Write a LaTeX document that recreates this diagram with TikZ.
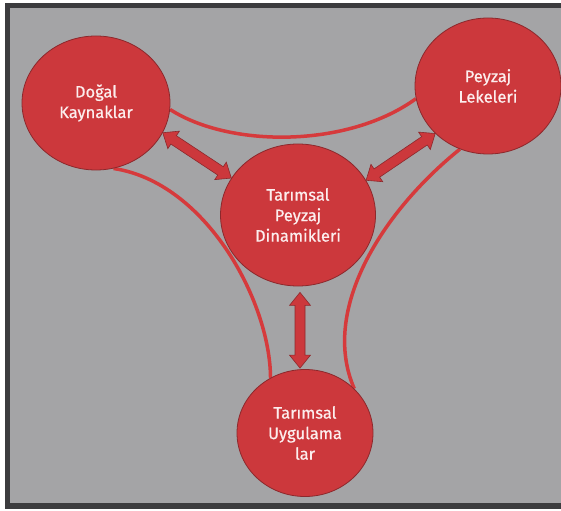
\documentclass[tikz,border=0pt]{standalone}
\usepackage{fontspec}
\setmainfont{Fira Sans}
\newfontfamily\lblfont{Fira Sans}[FakeBold=0.6]
\usetikzlibrary{calc,shapes.geometric}
\definecolor{bggrey}{RGB}{164,164,166}
\definecolor{framegrey}{RGB}{60,60,62}
\definecolor{circred}{RGB}{204,56,60}
\definecolor{edgered}{RGB}{140,40,44}
\definecolor{linered}{RGB}{214,58,60}
\definecolor{txtcol}{RGB}{252,238,238}
\pgfdeclarelayer{back}
\pgfdeclarelayer{mid}
\pgfsetlayers{back,mid,main}
\newcommand\twoheadblock[3]{%
  \coordinate (#3a) at ($(#1)!13bp!(#2)$);
  \coordinate (#3b) at ($(#2)!13bp!(#1)$);
  \draw[blockarrow] (#1) -- ($(#3a)!10.5bp!-90:(#2)$) -- ($(#3a)!5bp!-90:(#2)$)
    -- ($(#3b)!5bp!90:(#1)$) -- ($(#3b)!10.5bp!90:(#1)$) -- (#2)
    -- ($(#3b)!10.5bp!-90:(#1)$) -- ($(#3b)!5bp!-90:(#1)$)
    -- ($(#3a)!5bp!90:(#2)$) -- ($(#3a)!10.5bp!90:(#2)$) -- cycle;
}
\begin{document}
\begin{tikzpicture}[x=1bp,y=-1bp,
  circ/.style={ellipse, fill=circred, draw=edgered, line width=0.8bp,
    text=txtcol, align=center, inner sep=0pt,
    font=\lblfont\fontsize{16.5bp}{20.5bp}\selectfont},
  curve/.style={draw=linered, line width=3.5bp},
  blockarrow/.style={fill=circred, draw=edgered, line width=0.6bp, line join=miter}]
\useasboundingbox (0,0) rectangle (561,511);
\begin{pgfonlayer}{back}
\fill[white] (0,0) rectangle (561,511);
\fill[framegrey] (5,3) rectangle (570,509);
\fill[bggrey] (10,8) rectangle (570,503);
\end{pgfonlayer}

\node[circ, minimum width=148bp, minimum height=134bp] (dk) at (96,103) {Doğal\\Kaynaklar};
\node[circ, minimum width=146bp, minimum height=136bp] (pl) at (488,86) {Peyzaj\\Lekeleri};
\node[circ, minimum width=155bp, minimum height=142bp] (tp) at (298,215) {Tarımsal\\Peyzaj\\Dinamikleri};
\node[circ, minimum width=136bp, minimum height=127bp] (tu) at (305,433) {Tarımsal\\Uygulama\\lar};

\begin{pgfonlayer}{mid}
\draw[curve] (dk.-5) .. controls (230,148) and (348,148) .. (pl.190);
\draw[curve] (dk.-75) .. controls (205,182) and (270,300) .. (tu.122);
\draw[curve] (pl.246) .. controls (382,212) and (320,310) .. (tu.42);
\end{pgfonlayer}

\twoheadblock{dk.-24}{tp.151}{la}
\twoheadblock{pl.222}{tp.27}{ra}
\coordinate (va) at ($(tp.south)+(2,6)$);
\coordinate (vb) at ($(va |- tu.north)+(0,-1)$);
\twoheadblock{va}{vb}{ma}
\end{tikzpicture}
\end{document}
